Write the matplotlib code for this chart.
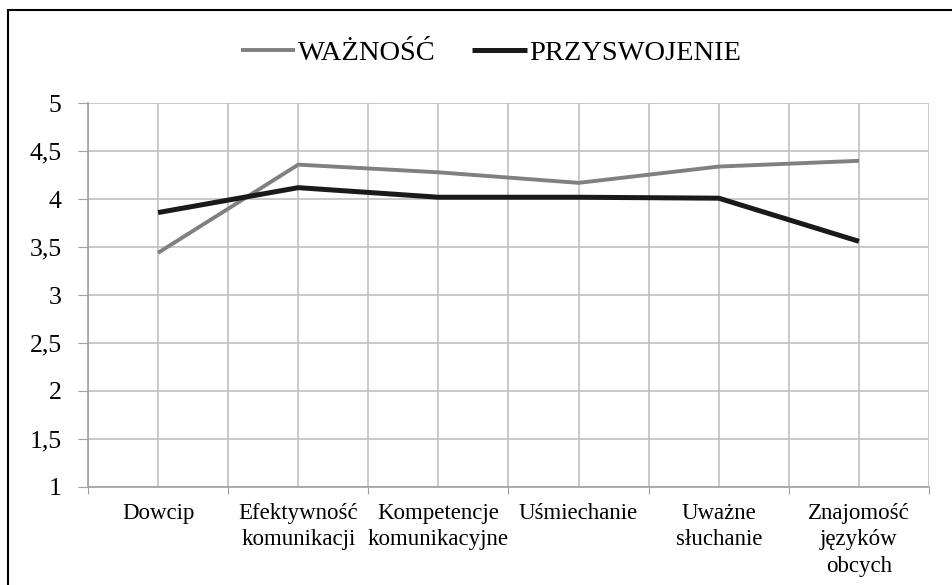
import matplotlib
matplotlib.use("Agg")
import matplotlib.pyplot as plt
import matplotlib.patches as patches
import numpy as np

plt.rcParams['font.family'] = ['Liberation Serif', 'DejaVu Serif']

kategorie = ["Dowcip", "Efektywność\nkomunikacji", "Kompetencje\nkomunikacyjne",
             "Uśmiechanie", "Uważne\nsłuchanie", "Znajomość\njęzyków\nobcych"]
waznosc = [3.44, 4.36, 4.28, 4.17, 4.34, 4.40]
przyswojenie = [3.86, 4.12, 4.02, 4.02, 4.01, 3.56]
yticks = [1, 1.5, 2, 2.5, 3, 3.5, 4, 4.5, 5]
ytick_labels = ["1", "1,5", "2", "2,5", "3", "3,5", "4", "4,5", "5"]

fig = plt.figure(figsize=(9.52, 5.85), dpi=100)
ax = fig.add_axes([88 / 952, 1 - 486.7 / 585, (929 - 88) / 952, (486.7 - 103.3) / 585])

x = np.arange(len(kategorie))
ax.plot(x, waznosc, color="#808080", lw=2.8, label="WAŻNOŚĆ", solid_capstyle="butt", zorder=3)
ax.plot(x, przyswojenie, color="#1a1a1a", lw=3.6, label="PRZYSWOJENIE", solid_capstyle="butt", zorder=4)

ax.set_xlim(-0.5, len(kategorie) - 0.5)
ax.set_ylim(1, 5)

# ticks na granicach kategorii, etykiety na srodkach
ax.set_xticks(np.arange(-0.5, len(kategorie), 1.0))
ax.set_xticklabels([])
ax.set_xticks(x, minor=True)
ax.set_xticklabels(kategorie, minor=True, fontsize=16.5, linespacing=1.35, va="top")
ax.tick_params(axis="x", which="major", length=5, color="#a0a0a0", direction="out")
ax.tick_params(axis="x", which="minor", length=0, pad=11.5)

ax.set_yticks(yticks)
ax.set_yticklabels(ytick_labels, fontsize=18.5)
ax.tick_params(axis="y", length=7, color="#a0a0a0", pad=12)

ax.grid(True, which="major", color="#c0c0c0", lw=1.2)
ax.grid(True, which="minor", axis="x", color="#c0c0c0", lw=1.2)
ax.set_axisbelow(True)

for s in ["top", "right"]:
    ax.spines[s].set_visible(False)
ax.spines["left"].set_color("#a0a0a0")
ax.spines["bottom"].set_color("#a0a0a0")
ax.spines["left"].set_linewidth(1.2)
ax.spines["bottom"].set_linewidth(1.2)

fig.legend(loc="center", bbox_to_anchor=(491 / 952, 1 - 53 / 585), ncol=2,
           frameon=False, fontsize=20.5, handlelength=1.9, handletextpad=0.1,
           columnspacing=1.3)

# ramka wokol wykresu
fig.patches.append(patches.Rectangle((8 / 952, -0.1), 1.2, 1.1 - 10 / 585,
                                     transform=fig.transFigure, fill=False,
                                     lw=1.5, edgecolor="black"))

fig.savefig("out.png", dpi=100)
